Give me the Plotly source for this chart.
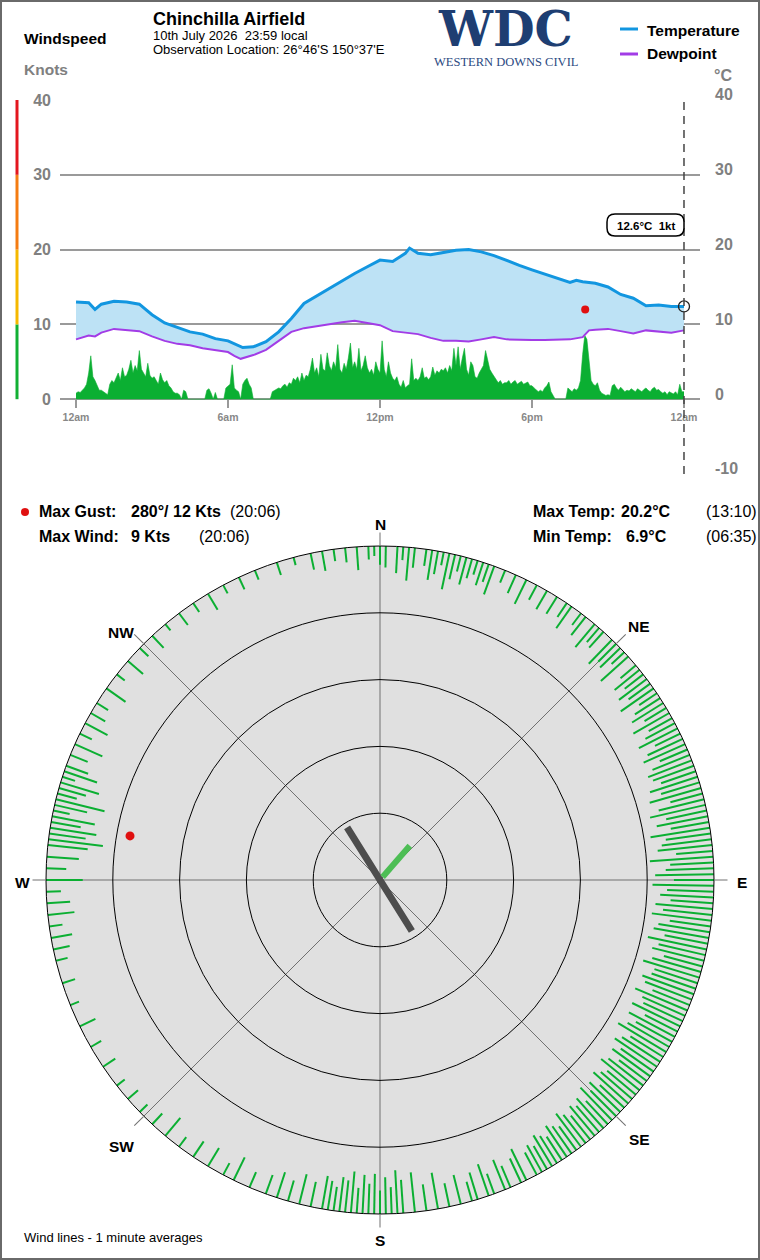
import plotly.graph_objects as go

W, H = 760, 1260
def px(x): return x / W
def py(y): return 1 - y / H

# ---------------- data ----------------
temp_hours = [0,0.5,0.75,1,1.5,2,2.5,3,3.5,4,4.5,5,5.5,6,6.5,6.583,7,7.5,8,8.5,9,9.5,10,10.5,11,11.5,12,12.5,13,13.167,13.5,14,14.5,15,15.5,16,16.5,17,17.5,18,18.5,19,19.5,19.75,20,20.5,21,21.5,22,22.5,23,23.5,24]
temp_c = [13.0,12.9,12.0,12.7,13.1,13.0,12.7,11.3,10.2,9.6,9.0,8.7,8.1,7.8,7.0,6.9,7.0,7.7,9.0,10.8,12.8,13.8,14.8,15.9,16.8,17.7,18.6,18.4,19.5,20.2,19.5,19.3,19.6,19.9,20.0,19.7,19.2,18.5,17.9,17.3,16.7,16.1,15.6,15.9,15.7,15.5,15.0,14.0,13.5,12.5,12.6,12.4,12.4]

dew_hours = [0,0.5,0.75,1,1.5,2,2.5,3,3.5,4,4.5,5,5.5,6,6.25,6.5,7,7.5,8,8.5,9,9.5,10,10.5,11,11.5,12,12.5,13,13.5,14,14.5,15,15.5,16,16.5,17,17.5,18,18.5,19,19.5,20,20.25,20.5,21,21.5,22,22.5,23,23.5,24]
dew_c = [8.0,8.5,8.4,8.9,9.4,9.3,9.1,8.4,7.8,7.4,7.2,6.8,6.5,6.3,5.8,5.4,5.9,6.6,7.8,9.0,9.5,9.8,10.0,10.3,10.5,10.2,9.9,9.1,8.9,8.7,8.2,7.8,7.8,7.7,8.0,8.3,8.0,7.9,7.9,7.9,8.0,8.0,8.3,9.2,9.3,9.4,9.1,8.8,9.2,9.0,8.9,9.2]

# wind speed (kts), 5-minute samples from 00:00 to 24:00
wind_kts = [
    0.8,1.0,0.9,1.2,1.5,2.0,3.5,5.8,3.0,2.5,1.8,1.2,
    1.2,1.0,0.8,0.6,2.0,2.5,2.2,3.0,3.5,2.5,4.2,3.0,
    3.2,4.0,5.2,3.5,4.5,3.8,6.5,4.0,3.5,3.0,4.8,3.2,
    2.8,3.0,2.5,2.0,3.5,2.6,2.2,2.5,1.8,1.5,1.0,0.8,
    0.8,0.6,0.0,1.2,1.0,0.0,0.0,0.0,0.0,0.0,0.0,0.0,
    0.0,0.0,1.2,1.4,0.8,0.0,0.9,0.0,0.0,0.0,0.0,1.5,
    1.8,2.0,4.6,1.5,1.2,1.0,0.0,2.0,2.5,2.8,2.0,1.5,
    0.0,0.0,0.0,0.0,0.0,0.0,0.0,0.0,0.0,1.0,1.2,1.3,
    1.5,1.4,1.8,2.0,1.6,2.2,2.0,2.8,2.5,3.0,2.2,3.5,
    2.5,3.2,3.0,4.0,5.5,3.5,4.2,3.0,6.0,4.0,3.8,6.2,
    4.5,3.8,5.0,4.2,7.3,4.0,3.5,4.8,4.0,5.5,7.5,4.2,
    5.0,4.0,6.8,3.8,4.5,5.8,4.2,3.5,4.0,3.2,5.0,4.0,
    3.5,7.8,4.0,3.0,5.0,3.5,2.8,2.5,3.0,2.0,1.6,2.5,
    1.5,1.8,2.0,5.4,2.5,2.8,2.5,3.0,4.2,2.8,3.0,2.6,
    3.0,4.3,3.2,3.8,3.5,4.0,3.8,4.2,3.5,4.5,3.8,6.8,
    4.5,7.0,4.0,5.5,6.8,4.0,3.2,5.0,4.5,3.0,2.8,3.5,
    4.0,4.5,6.5,5.0,4.0,3.5,3.0,2.5,2.2,2.5,2.0,2.2,
    2.2,2.5,2.0,2.3,2.5,2.0,2.2,2.4,2.0,2.2,2.3,1.8,
    1.8,1.5,1.2,1.0,1.2,1.0,1.5,1.8,2.3,1.0,0.5,0.0,
    0.0,0.0,0.0,0.0,0.0,1.5,1.2,1.0,1.4,1.2,1.5,2.5,
    6.0,8.5,8.0,5.0,2.5,2.0,1.8,2.2,1.2,0.8,0.6,0.5,
    0.6,0.5,1.8,2.0,1.5,1.2,1.6,1.3,1.0,1.2,1.1,1.4,
    1.2,1.0,1.4,1.2,1.0,1.3,1.5,1.2,1.0,1.4,1.6,1.2,
    1.3,1.0,0.8,1.0,0.6,1.0,0.8,0.7,1.0,0.6,2.0,1.0,
    1.0,
]
wind_hours = [i / 12 for i in range(len(wind_kts))]

# polar wind lines: direction (deg) and 1-min average speed (kts)
rim_dir = [338,342,345,348,350,352,354,356,358,359,0,1,3,4,5,6,8,9,10,11,12,13,14,15,16,17,18,19,20,22,24,26,28,30,
           32,34,35,37,38,40,41,42,44,45,46,47,48,50,51,52,53,54,55,56,57,58,59,60,61,62,63,64,65,66,67,68,69,
           70,71,72,73,74,75,76,77,78,79,80,81,82,83,84,85,86,87,88,89,90,91,92,93,94,95,96,97,98,99,100,101,102,103,104,105,106,107,108,109,110,
           111,112,113,114,115,116,117,118,119,120,121,122,123,124,125,126,127,128,129,130,131,132,133,134,135,136,137,138,139,140,141,142,143,144,145,146,147,148,149,150,
           151,152,154,155,157,158,160,161,163,164,166,168,170,172,174,
           176,177,178,179,180,181,182,183,184,185,186,187,188,189,190,192,194,196,198,200,
           203,206,208,211,214,217,220,223,226,229,
           232,236,240,244,248,252,
           256,258,260,262,264,266,268,270,272,274,
           276,277,278,279,280,281,282,283,284,285,286,287,288,289,290,292,294,296,298,300,
           302,305,308,311,314,317,320,323,326,329,332,335]
rim_kts = [1.5,2.0,1.2,2.5,3.0,1.8,2.2,3.5,2.0,1.5,2.8,3.2,4.0,2.0,5.0,3.0,2.5,4.5,3.5,2.0,5.5,3.8,2.4,4.2,3.0,2.2,3.6,2.8,4.5,2.0,3.0,4.0,2.5,3.2,
           3.0,2.5,4.0,2.2,3.5,4.5,2.8,3.2,5.0,3.8,4.2,2.6,5.5,3.0,4.8,3.5,5.2,4.0,6.0,3.2,4.5,5.5,3.8,6.2,4.0,5.0,6.5,4.2,5.8,6.8,4.5,6.0,7.0,
           6.5,5.5,7.5,6.0,8.0,5.0,7.0,8.5,6.2,7.8,5.8,9.0,6.8,7.5,8.2,5.5,9.5,6.5,7.2,8.8,6.0,9.2,7.0,8.0,6.4,8.6,7.4,9.0,6.2,7.8,8.4,6.6,9.0,7.2,8.0,6.0,7.6,8.8,6.8,7.0,8.2,
           7.5,6.0,8.5,7.0,6.5,8.0,5.5,7.8,6.2,7.2,8.4,5.8,6.8,7.6,6.0,7.0,5.2,6.6,7.4,5.6,6.2,7.0,5.0,6.4,5.4,6.8,4.8,6.0,5.2,5.8,4.6,5.4,6.2,4.4,5.0,5.6,4.2,4.8,5.4,4.0,
           4.6,3.8,5.2,4.0,3.5,4.8,3.2,5.0,4.2,3.0,4.5,3.6,5.5,4.0,6.0,
           5.0,6.5,4.0,5.5,3.5,6.0,4.5,5.8,3.8,6.2,4.8,5.2,3.6,4.4,5.0,3.8,4.6,3.2,4.0,3.0,
           2.5,3.8,2.0,3.2,2.8,1.8,3.5,2.2,1.6,2.0,
           1.5,2.2,1.8,2.6,1.4,2.0,
           1.8,2.5,3.2,2.0,4.0,3.5,2.2,5.5,3.0,4.8,
           6.0,8.2,5.5,7.0,4.5,6.5,2.5,5.0,7.5,3.0,4.2,6.0,2.0,5.2,3.5,2.8,4.5,2.0,3.8,2.5,
           2.0,3.5,1.5,3.0,1.8,2.5,1.2,2.2,1.6,2.8,1.4,2.0]

RIM = 50
gust_dir, gust_kts, gust_hour = 280, 12, 20.1
avg_dir, avg_len, avg_back = 328, 9.3, 9.0
cur_dir, cur_len = 41, 6.8
now_hour, now_temp_label, now_wind = 24, 12.6, 1

wind_ticks = [0, 10, 20, 30, 40]
temp_ticks = [-10, 0, 10, 20, 30, 40]
x_tick_vals = [0, 6, 12, 18, 24]
x_tick_text = ["12am", "6am", "12pm", "6pm", "12am"]
compass_vals = [0, 45, 90, 135, 180, 225, 270, 315]
compass_text = ["N", "NE", "E", "SE", "S", "SW", "W", "NW"]
scale_bands = [(0, 10, "#12B034"), (10, 20, "#F5B800"), (20, 30, "#F47C12"), (30, 40, "#E3161E")]

TEMP_COL = "#1296E0"
DEW_COL = "#A23CE6"
FILL_COL = "#BDE2F5"
WIND_COL = "#0BAF32"
GRAY = "#808080"

fig = go.Figure()

# fill between dewpoint and temperature
fig.add_trace(go.Scatter(x=dew_hours, y=dew_c, mode="lines", line=dict(width=0, color=DEW_COL),
                         showlegend=False, hoverinfo="skip"))
fig.add_trace(go.Scatter(x=temp_hours, y=temp_c, mode="lines", line=dict(width=0, color=TEMP_COL),
                         fill="tonexty", fillcolor=FILL_COL, showlegend=False, hoverinfo="skip"))
# wind speed area
fig.add_trace(go.Scatter(x=wind_hours, y=wind_kts, mode="lines", line=dict(width=0.6, color=WIND_COL),
                         fill="tozeroy", fillcolor=WIND_COL, showlegend=False, hoverinfo="skip"))
# lines
fig.add_trace(go.Scatter(x=dew_hours, y=dew_c, mode="lines", line=dict(width=2, color=DEW_COL),
                         showlegend=False))
fig.add_trace(go.Scatter(x=temp_hours, y=temp_c, mode="lines", line=dict(width=3, color=TEMP_COL),
                         showlegend=False))
# gust dot
fig.add_trace(go.Scatter(x=[gust_hour], y=[gust_kts], mode="markers",
                         marker=dict(size=8, color="#E01010"), showlegend=False))
# current marker
fig.add_trace(go.Scatter(x=[temp_hours[-1]], y=[temp_c[-1]], mode="markers",
                         marker=dict(size=11, symbol="circle-open", color="#222", line=dict(width=1.3)),
                         showlegend=False))

# ---- polar ----
rr, tt = [], []
for d, s in zip(rim_dir, rim_kts):
    rr += [RIM, RIM - s, None]
    tt += [d, d, None]
fig.add_trace(go.Scatterpolar(r=rr, theta=tt, mode="lines", line=dict(color=WIND_COL, width=2),
                              showlegend=False, hoverinfo="skip"))
fig.add_trace(go.Scatterpolar(r=[avg_len, 0, avg_back], theta=[avg_dir, 0, avg_dir - 180], mode="lines",
                              line=dict(color="#4D4D4D", width=7), showlegend=False))
fig.add_trace(go.Scatterpolar(r=[0.6, cur_len], theta=[cur_dir, cur_dir], mode="lines",
                              line=dict(color="#4DBE55", width=6), showlegend=False))
fig.add_trace(go.Scatterpolar(r=[RIM - gust_kts], theta=[gust_dir], mode="markers",
                              marker=dict(size=9, color="#E01010"), showlegend=False))

fig.update_layout(
    width=W, height=H, autosize=False,
    margin=dict(l=0, r=0, t=0, b=0, pad=0, autoexpand=False),
    showlegend=False,
    paper_bgcolor="white", plot_bgcolor="white",
    font=dict(family="Liberation Sans, Arial, sans-serif", color="black"),
    hovermode=False,
    xaxis=dict(domain=[px(60), px(700)], range=[-0.632, 24.632], anchor="free", position=py(399),
               tickvals=x_tick_vals, ticktext=[f"<b>{t}</b>" for t in x_tick_text],
               tickfont=dict(size=10.5, color="#888"), ticks="outside", ticklen=8, tickcolor="#999",
               tickwidth=1.5, showgrid=False, zeroline=False, showline=False, automargin=False),
    yaxis=dict(domain=[py(474), py(100)], range=[-10, 40],
               tickvals=temp_ticks, ticktext=[""] + [f"<b>{v}</b>" for v in wind_ticks],
               tickfont=dict(size=16, color=GRAY), showgrid=True, gridcolor="#9A9A9A", gridwidth=1.5,
               zeroline=False, ticks="", ticklabelstandoff=8, automargin=False),
    polar=dict(
        domain=dict(x=[px(46), px(714)], y=[py(1214), py(546)]),
        bgcolor="#E0E0E0",
        radialaxis=dict(range=[0, RIM], tickvals=[10, 20, 30, 40], showticklabels=False, ticks="",
                        showline=False, gridcolor="black", gridwidth=1),
        angularaxis=dict(direction="clockwise", rotation=90, tickvals=compass_vals,
                         showticklabels=False,
                         showline=True, linecolor="black", linewidth=1, gridcolor="#707070", gridwidth=1,
                         ticks="outside", ticklen=13, tickcolor="#707070", tickwidth=1),
    ),
)

shapes = []
# left colour scale
for lo, hi, c in scale_bands:
    shapes.append(dict(type="line", xref="paper", yref="y", x0=px(17), x1=px(17), y0=lo, y1=hi,
                       line=dict(color=c, width=3)))
# current time dashed line
shapes.append(dict(type="line", xref="x", yref="y", x0=now_hour, x1=now_hour, y0=-10, y1=40,
                   line=dict(color="#444", width=1.5, dash="8px,6px")))
# legend lines
shapes.append(dict(type="line", xref="paper", yref="paper", x0=px(620), x1=px(638), y0=py(29), y1=py(29),
                   line=dict(color=TEMP_COL, width=3)))
shapes.append(dict(type="line", xref="paper", yref="paper", x0=px(620), x1=px(638), y0=py(54), y1=py(54),
                   line=dict(color=DEW_COL, width=3)))
# rounded label box
bx0, bx1, by0, by1, rad = 607, 684, 214, 236, 8
path = (f"M {px(bx0+rad)},{py(by0)} L {px(bx1-rad)},{py(by0)} Q {px(bx1)},{py(by0)} {px(bx1)},{py(by0+rad)} "
        f"L {px(bx1)},{py(by1-rad)} Q {px(bx1)},{py(by1)} {px(bx1-rad)},{py(by1)} "
        f"L {px(bx0+rad)},{py(by1)} Q {px(bx0)},{py(by1)} {px(bx0)},{py(by1-rad)} "
        f"L {px(bx0)},{py(by0+rad)} Q {px(bx0)},{py(by0)} {px(bx0+rad)},{py(by0)} Z")
shapes.append(dict(type="path", xref="paper", yref="paper", path=path, fillcolor="white",
                   line=dict(color="black", width=1.5)))
# red dot next to Max Gust
shapes.append(dict(type="circle", xref="paper", yref="paper", x0=px(21), x1=px(29), y0=py(516), y1=py(508),
                   fillcolor="#E01010", line=dict(width=0)))
# border
shapes.append(dict(type="rect", xref="paper", yref="paper", x0=0, x1=1, y0=0, y1=1,
                   line=dict(color="#6A6A6A", width=4)))
fig.update_layout(shapes=shapes)

NB = "\u00a0"
def ann(x, y, text, size=15, color="black", xanchor="left", family=None):
    d = dict(x=px(x), y=py(y), xref="paper", yref="paper", text=text, showarrow=False,
             xanchor=xanchor, yanchor="middle", font=dict(size=size, color=color))
    if family:
        d["font"]["family"] = family
    return d

compass_pos = [(380, 524), (639, 626), (742, 882), (639, 1139), (380, 1240), (121, 1146), (22, 882), (121, 632)]

anns = [
    ann(22, 38, "<b>Windspeed</b>", 15.5),
    ann(22, 69, "<b>Knots</b>", 15.5, GRAY),
    ann(151, 19, "<b>Chinchilla Airfield</b>", 18),
    ann(151, 35, f"10th July 2026{NB}{NB}23:59 local", 13),
    ann(151, 50, "Observation Location: 26°46'S 150°37'E", 13),
    ann(505, 29, "<b>WDC</b>", 48, "#1E3E72", "center", "DejaVu Serif, serif"),
    ann(506, 62, "WESTERN DOWNS CIVIL", 12.5, "#2B4A82", "center", "Liberation Serif, serif"),
    ann(645, 30, "<b>Temperature</b>", 15.5),
    ann(645, 54, "<b>Dewpoint</b>", 15.5),
    ann(723, 75, "<b>°C</b>", 16, GRAY, "center"),
    ann(645.5, 225.5, f"<b>{now_temp_label}°C{NB}{NB}{now_wind}kt</b>", 11.5, "black", "center"),
    ann(37, 511, "<b>Max Gust:</b>", 16),
    ann(129, 511, f"<b>{gust_dir}°/ {gust_kts} Kts</b>", 16),
    ann(228, 511, "(20:06)", 16),
    ann(37, 536, "<b>Max Wind:</b>", 16),
    ann(129, 536, "<b>9 Kts</b>", 16),
    ann(197, 536, "(20:06)", 16),
    ann(531, 511, "<b>Max Temp:</b>", 16),
    ann(619, 511, f"<b>{max(temp_c)}°C</b>", 16),
    ann(704, 511, "(13:10)", 16),
    ann(531, 536, "<b>Min Temp:</b>", 16),
    ann(624, 536, f"<b>{min(temp_c)}°C</b>", 16),
    ann(704, 536, "(06:35)", 16),
    ann(22, 1237, "Wind lines - 1 minute averages", 13),
]
# temperature axis labels (right side), sitting just above their gridlines
for v in temp_ticks:
    anns.append(dict(x=px(713), y=v, xref="paper", yref="y", text=f"<b>{v}</b>", showarrow=False,
                     xanchor="left", yanchor="middle", yshift=5, font=dict(size=16, color=GRAY)))
for (cx, cy), t in zip(compass_pos, compass_text):
    anns.append(ann(cx, cy, f"<b>{t}</b>", 15.5, "black", "center"))
fig.update_layout(annotations=anns)

fig.write_html("out.html")
